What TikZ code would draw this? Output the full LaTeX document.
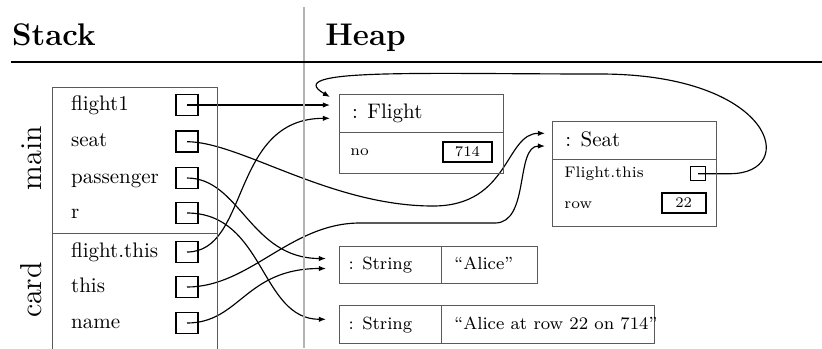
\documentclass[tikz,border=0pt]{standalone}
\usepackage{fontspec}
\usetikzlibrary{arrows.meta,backgrounds}
\newcommand\pxu{0.47619pt}
\newcommand\fieldfont{\fontsize{7.3}{9}\selectfont}
\newcommand\valfont{\fontsize{7}{9}\selectfont}
\newcommand\strfont{\fontsize{8.4}{10}\selectfont}
\newcommand\hdfont{\fontsize{14.9}{18}\selectfont\bfseries}
\definecolor{framegray}{HTML}{5A5A5A}
\definecolor{rulegray}{HTML}{B4B4B4}
\tikzset{
  frame/.style={draw=framegray, line width=0.5pt, inner sep=0pt, anchor=north west},
  ptr/.style={draw=black, line width=0.8pt, inner sep=0pt, minimum width=22.6*\pxu, minimum height=21*\pxu},
  valbox/.style={draw=black, line width=0.8pt, inner sep=0pt, font=\valfont},
  varlbl/.style={anchor=base west, inner sep=0pt},
  fieldlbl/.style={anchor=base west, inner sep=0pt, font=\fieldfont},
  strlbl/.style={anchor=base west, inner sep=0pt, font=\strfont},
  conn/.style={line width=0.55pt, -{Latex[length=3.4pt,width=2.6pt]}},
}
\begin{document}
\begin{tikzpicture}[x=\pxu, y=-\pxu]
\useasboundingbox (0,0) rectangle (822,348);

% header
\draw[rulegray, line width=0.5pt] (304,7) -- (304,348);
\draw[line width=0.6pt] (11,62) -- (822,62);
\node[anchor=base west, inner sep=0pt, font=\hdfont] (stackhd) at (11.7,45) {Stack};
\node[anchor=base west, inner sep=0pt, font=\hdfont] (heaphd) at (325,45) {Heap};

% stack frames
\node[frame, minimum width=165*\pxu, minimum height=146*\pxu] (mainbox) at (52,87) {};
\node[frame, minimum width=165*\pxu, minimum height=125*\pxu] (cardbox) at (52,233) {};
\node[rotate=90, anchor=base, inner sep=0pt, font=\Large] (mainlbl) at (41.7,158) {main};
\node[rotate=90, anchor=base, inner sep=0pt, font=\Large] (cardlbl) at (41.7,290) {card};

% variables
\node[varlbl] (nflight1) at (70.7,110) {flight1};
\node[varlbl] (nseat) at (70.7,146.7) {seat};
\node[varlbl] (npass) at (70.7,183) {passenger};
\node[varlbl] (nr) at (70.7,218) {r};
\node[varlbl] (nfthis) at (70.7,257) {flight.this};
\node[varlbl] (nthis) at (70.7,292) {this};
\node[varlbl] (nname) at (70.7,328) {name};

\node[ptr] (pflight1) at (187,105) {};
\node[ptr] (pseat) at (187,141.7) {};
\node[ptr] (ppass) at (187,178) {};
\node[ptr] (pr) at (187,213) {};
\node[ptr] (pfthis) at (187,252) {};
\node[ptr] (pthis) at (187,287) {};
\node[ptr] (pname) at (187,323) {};

% Flight object
\node[frame, minimum width=164.3*\pxu, minimum height=38*\pxu] (flighthead) at (339,93.7) {};
\node[frame, minimum width=164.3*\pxu, minimum height=41.6*\pxu] (flightbody) at (339,131.7) {};
\node[anchor=base west, inner sep=0pt] (flightname) at (351.7,118) {: Flight};
\node[fieldlbl] (flightno) at (350,155.7) {no};
\node[valbox, minimum width=48.4*\pxu, minimum height=20.6*\pxu] (flightval) at (467.5,152) {714};

% Seat object
\node[frame, minimum width=164.3*\pxu, minimum height=38*\pxu] (seathead) at (551.7,121) {};
\node[frame, minimum width=164.3*\pxu, minimum height=66.7*\pxu] (seatbody) at (551.7,159) {};
\node[anchor=base west, inner sep=0pt] (seatname) at (565,146) {: Seat};
\node[fieldlbl] (seatfthis) at (564,177.3) {Flight.this};
\node[ptr, line width=0.7pt, minimum width=15*\pxu, minimum height=14*\pxu] (pseatf) at (698.2,173.7) {};
\node[fieldlbl] (seatrow) at (564,208.3) {row};
\node[valbox, minimum width=44*\pxu, minimum height=20.6*\pxu] (seatval) at (683.7,203) {22};

% String objects
\node[frame, minimum width=102.3*\pxu, minimum height=37*\pxu] (s1l) at (339,245.7) {};
\node[frame, minimum width=95.4*\pxu, minimum height=37*\pxu] (s1r) at (441.3,245.7) {};
\node[strlbl] (s1type) at (348.3,269.3) {: String};
\node[strlbl] (s1val) at (454,269.3) {``Alice''};
\node[frame, minimum width=102.3*\pxu, minimum height=37.7*\pxu] (s2l) at (339,305) {};
\node[frame, minimum width=212.7*\pxu, minimum height=37.7*\pxu] (s2r) at (441.3,305) {};
\node[strlbl] (s2type) at (348.3,329.3) {: String};
\node[strlbl] (s2val) at (454,329.3) {``Alice at row 22 on 714''};

% arrow end points
\coordinate (fA) at (330,105);
\coordinate (fB) at (330,118.3);
\coordinate (fC) at (330,97);
\coordinate (sA) at (545,133.3);
\coordinate (sB) at (545,146);
\coordinate (a1) at (326,258.5);
\coordinate (a2) at (326,268.5);
\coordinate (b1) at (326,319.3);

\begin{pgfonlayer}{background}
\draw[conn] (pflight1.center) -- (fA);
\draw[conn] (pfthis.center) .. controls (250,252) and (230,118.3) .. (fB);
\draw[conn] (pseat.center) .. controls (240,141.7) and (330,206) .. (433,206)
  .. controls (510,206) and (505,133.3) .. (sA);
\draw[conn] (pthis.center) .. controls (250,287) and (290,223) .. (360,223) -- (495,223)
  .. controls (530,223) and (515,146) .. (sB);
\draw[conn] (ppass.center) .. controls (240,178) and (250,258.5) .. (a1);
\draw[conn] (pr.center) .. controls (265,213) and (260,319.3) .. (b1);
\draw[conn] (pname.center) .. controls (240,323) and (245,268.5) .. (a2);
\draw[conn] (pseatf.center) -- (730,173.7) .. controls (800,173.7) and (775,74) .. (600,74)
  .. controls (420,74) and (280,68) .. (fC);
\end{pgfonlayer}
\end{tikzpicture}
\end{document}
